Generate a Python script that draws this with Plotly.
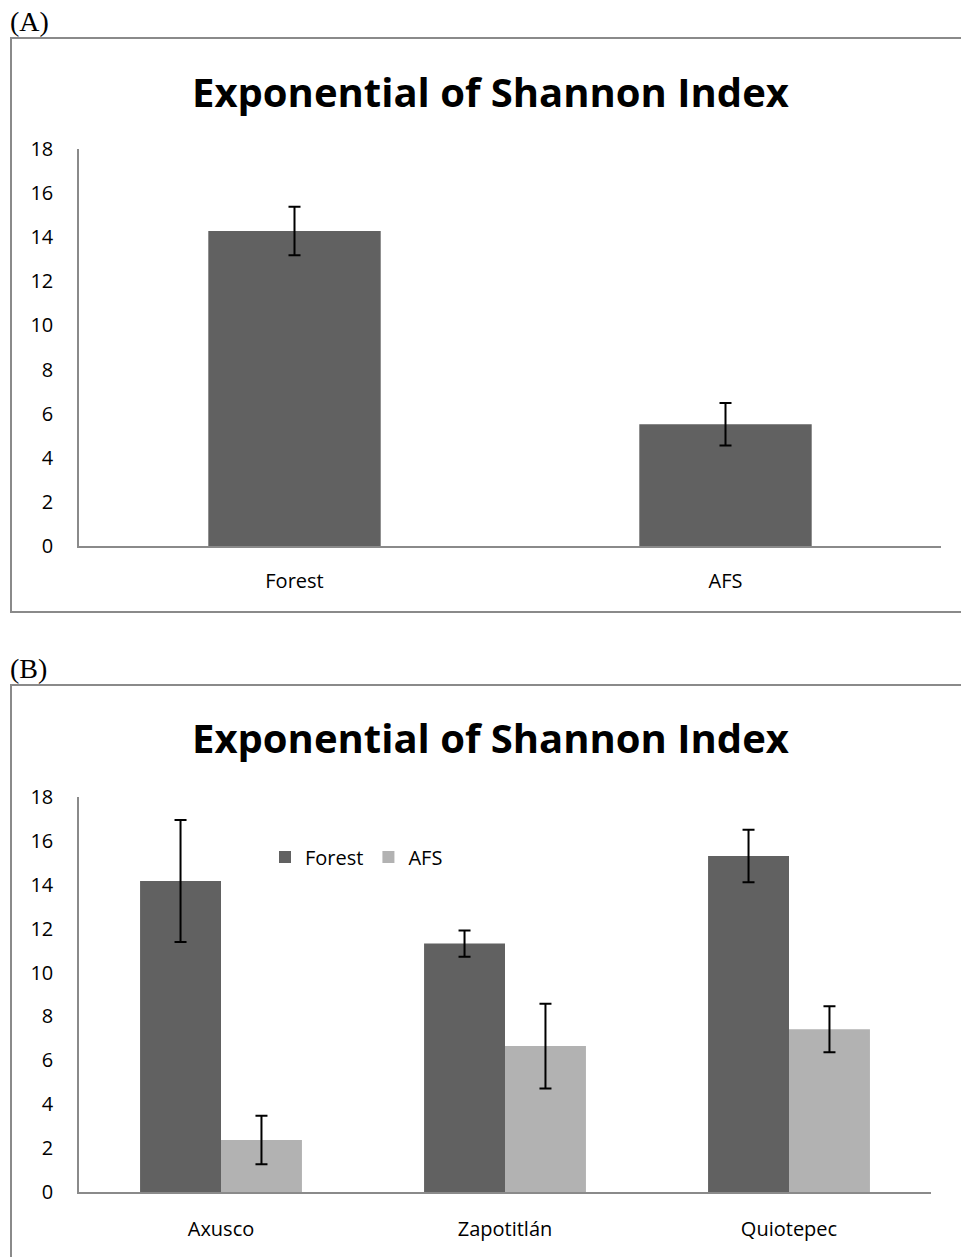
import plotly.graph_objects as go

# Panel A data
cats_a = ["Forest", "AFS"]
vals_a = [14.28, 5.52]
err_a = [1.1, 0.96]

# Panel B data
sites_b = ["Axusco", "Zapotitlán", "Quiotepec"]
forest_b = [14.17, 11.32, 15.31]
forest_err_b = [2.78, 0.6, 1.2]
afs_b = [2.37, 6.65, 7.42]
afs_err_b = [1.1, 1.93, 1.05]

yticks = [0, 2, 4, 6, 8, 10, 12, 14, 16, 18]

DARK = "#616161"
LIGHT = "#b2b2b2"
W, H = 961, 1257

def py(px):
    return 1 - px / H

fig = go.Figure()

err_style = dict(type="data", color="black", thickness=2, width=6)

fig.add_trace(go.Bar(x=cats_a, y=vals_a, marker=dict(color=DARK, line=dict(width=0)),
                     error_y=dict(array=err_a, **err_style), xaxis="x", yaxis="y",
                     showlegend=False, width=0.4))

fig.add_trace(go.Bar(x=sites_b, y=forest_b, name="Forest", marker=dict(color=DARK, line=dict(width=0)),
                     error_y=dict(array=forest_err_b, **err_style), xaxis="x2", yaxis="y2"))
fig.add_trace(go.Bar(x=sites_b, y=afs_b, name="AFS", marker=dict(color=LIGHT, line=dict(width=0)),
                     error_y=dict(array=afs_err_b, **err_style), xaxis="x2", yaxis="y2"))

tickfont = dict(family="Open Sans", size=20, color="black")
axis_common = dict(showgrid=False, zeroline=False, showline=True, linecolor="#8a8a8a", linewidth=1.5,
                   ticks="", tickfont=tickfont, automargin=False)

fig.update_layout(
    width=W, height=H, autosize=False, margin=dict(l=0, r=0, t=0, b=0, pad=0),
    paper_bgcolor="white", plot_bgcolor="white",
    barmode="group", bargap=0.43, bargroupgap=0,
    xaxis=dict(domain=[79 / W, 941 / W], anchor="y", ticklabelstandoff=16, **axis_common),
    yaxis=dict(domain=[py(546), py(149)], range=[0, 18], tickvals=yticks, anchor="x",
               ticklabelstandoff=20, **axis_common),
    xaxis2=dict(domain=[79 / W, 931 / W], anchor="y2", ticklabelstandoff=18, **axis_common),
    yaxis2=dict(domain=[py(1192), py(797)], range=[0, 18], tickvals=yticks, anchor="x2",
                ticklabelstandoff=20, **axis_common),
    legend=dict(orientation="h", x=265 / W, y=py(857), xanchor="left", yanchor="middle",
                font=dict(family="Open Sans", size=20, color="black"), bgcolor="rgba(0,0,0,0)",
                itemwidth=30, tracegroupgap=0),
    font=dict(family="Open Sans"),
)

# Borders
fig.add_shape(type="rect", xref="paper", yref="paper", x0=11 / W, x1=1.01, y0=py(612), y1=py(38),
              line=dict(color="#8a8a8a", width=2), fillcolor="rgba(0,0,0,0)", layer="below")
fig.add_shape(type="rect", xref="paper", yref="paper", x0=11 / W, x1=1.01, y0=-0.05, y1=py(685),
              line=dict(color="#8a8a8a", width=2), fillcolor="rgba(0,0,0,0)", layer="below")

title = "<b>Exponential of Shannon Index</b>"
fig.add_annotation(text=title, xref="paper", yref="paper", x=490 / W, y=py(91), showarrow=False,
                   xanchor="center", yanchor="middle", font=dict(family="Open Sans", size=40, color="black"))
fig.add_annotation(text=title, xref="paper", yref="paper", x=490 / W, y=py(737), showarrow=False,
                   xanchor="center", yanchor="middle", font=dict(family="Open Sans", size=40, color="black"))
fig.add_annotation(text="(A)", xref="paper", yref="paper", x=8 / W, y=py(21), showarrow=False,
                   xanchor="left", yanchor="middle", font=dict(family="Liberation Serif", size=28, color="black"))
fig.add_annotation(text="(B)", xref="paper", yref="paper", x=8 / W, y=py(669), showarrow=False,
                   xanchor="left", yanchor="middle", font=dict(family="Liberation Serif", size=28, color="black"))

fig.write_html("out.html", config={"displayModeBar": False},
               post_script="document.body.style.margin='0';document.body.style.overflow='hidden';")
